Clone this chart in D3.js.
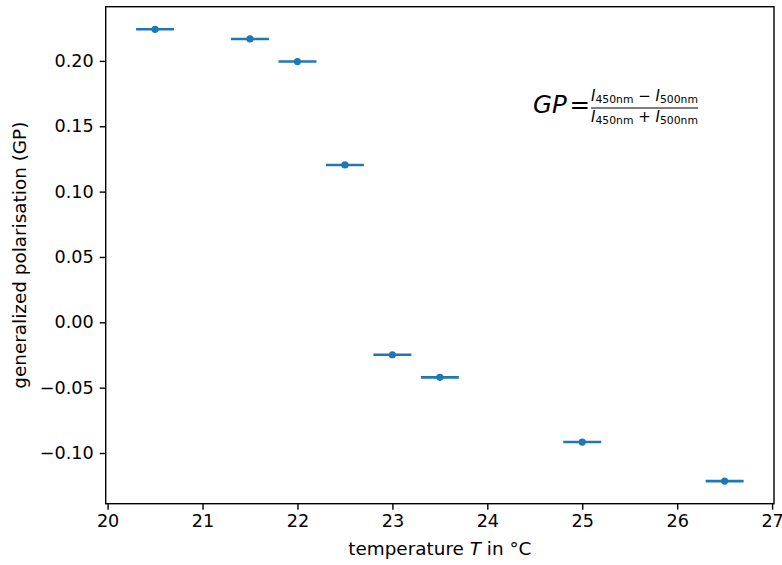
<!DOCTYPE html>
<html>
<head>
<meta charset="utf-8">
<script src="https://cdn.jsdelivr.net/npm/d3@7"></script>
<style>
  body { margin: 0; background: #fff; }
  text { font-family: "DejaVu Sans", sans-serif; }
</style>
</head>
<body>
<div id="chart"></div>
<script>
// temperature in °C, GP values, x error
const temps = [20.5, 21.5, 22.0, 22.5, 23.0, 23.5, 25.0, 26.5];
const gp = [0.2242, 0.2168, 0.1995, 0.1204, -0.0248, -0.0421, -0.0916, -0.1215];
const tErr = [0.2, 0.2, 0.2, 0.2, 0.2, 0.2, 0.2, 0.2];
const xTicks = [20, 21, 22, 23, 24, 25, 26, 27];
const yTicks = [-0.10, -0.05, 0.00, 0.05, 0.10, 0.15, 0.20];

const W = 782, H = 565;
const m = { left: 105.7, right: 774, top: 6.7, bottom: 503.7 };
const blue = '#1f77b4';
const fs = 17.6, lfs = 18.4;

const svg = d3.select('#chart').append('svg')
  .attr('width', W).attr('height', H);

// matplotlib-like 5% margins
const xlo = d3.min(temps.map((t, i) => t - tErr[i])),
      xhi = d3.max(temps.map((t, i) => t + tErr[i])),
      ylo = d3.min(gp), yhi = d3.max(gp);
const xs = d3.scaleLinear()
  .domain([xlo - 0.05 * (xhi - xlo), xhi + 0.05 * (xhi - xlo)])
  .range([m.left, m.right]);
const ys = d3.scaleLinear()
  .domain([ylo - 0.05 * (yhi - ylo), yhi + 0.05 * (yhi - ylo)])
  .range([m.bottom, m.top]);

const minus = s => s.replace('-', '\u2212');

const xAxis = svg.append('g')
  .attr('transform', `translate(0,${m.bottom})`)
  .call(d3.axisBottom(xs).tickValues(xTicks).tickFormat(d3.format('d'))
    .tickSizeInner(6).tickSizeOuter(0).tickPadding(5));
const yAxis = svg.append('g')
  .attr('transform', `translate(${m.left},0)`)
  .call(d3.axisLeft(ys).tickValues(yTicks).tickFormat(d => minus(d3.format('.2f')(d)))
    .tickSizeInner(6).tickSizeOuter(0).tickPadding(6));

[xAxis, yAxis].forEach(a => {
  a.select('.domain').remove();
  a.selectAll('.tick line').attr('stroke', '#000').attr('stroke-width', 1.4);
  a.selectAll('.tick text').attr('fill', '#000')
    .style('font-family', '"DejaVu Sans", sans-serif').style('font-size', fs + 'px');
});

// frame
svg.append('rect')
  .attr('x', m.left).attr('y', m.top)
  .attr('width', m.right - m.left).attr('height', m.bottom - m.top)
  .attr('fill', 'none').attr('stroke', '#000').attr('stroke-width', 1.4);

// error bars and points
const pts = svg.append('g');
pts.selectAll('line').data(temps).enter().append('line')
  .attr('x1', (d, i) => xs(d - tErr[i]))
  .attr('x2', (d, i) => xs(d + tErr[i]))
  .attr('y1', (d, i) => ys(gp[i]))
  .attr('y2', (d, i) => ys(gp[i]))
  .attr('stroke', blue).attr('stroke-width', 2.6);
pts.selectAll('circle').data(temps).enter().append('circle')
  .attr('cx', d => xs(d))
  .attr('cy', (d, i) => ys(gp[i]))
  .attr('r', 3.6)
  .attr('fill', blue);

// axis labels
const xl = svg.append('text')
  .attr('x', (m.left + m.right) / 2).attr('y', 555)
  .attr('text-anchor', 'middle').style('font-size', lfs + 'px');
xl.append('tspan').text('temperature ');
xl.append('tspan').attr('font-style', 'italic').text('T');
xl.append('tspan').text(' in \u00b0C');

svg.append('text')
  .attr('transform', `translate(26,${(m.top + m.bottom) / 2}) rotate(-90)`)
  .attr('text-anchor', 'middle').style('font-size', lfs + 'px')
  .text('generalized polarisation (GP)');

// formula annotation
const big = 24.5, mid = 15, sub = 10.8;
const f = svg.append('g');
f.append('text').attr('x', 533).attr('y', 113)
  .attr('font-style', 'italic').style('font-size', big + 'px').text('GP');
f.append('text').attr('x', 569.5).attr('y', 113)
  .style('font-size', big + 'px').text('=');
f.append('line').attr('x1', 591).attr('x2', 698)
  .attr('y1', 108).attr('y2', 108)
  .attr('stroke', '#000').attr('stroke-width', 1);

function fracRow(y, op) {
  const t = f.append('text').attr('x', 644.5).attr('y', y).attr('text-anchor', 'middle');
  t.append('tspan').attr('font-style', 'italic').style('font-size', mid + 'px').text('I');
  t.append('tspan').attr('dy', 2.8).style('font-size', sub + 'px').text('450nm');
  t.append('tspan').attr('dy', -2.8).style('font-size', mid + 'px').text(' ' + op + ' ');
  t.append('tspan').attr('font-style', 'italic').style('font-size', mid + 'px').text('I');
  t.append('tspan').attr('dy', 2.8).style('font-size', sub + 'px').text('500nm');
}
fracRow(100.5, '\u2212');
fracRow(121.5, '+');
</script>
</body>
</html>
